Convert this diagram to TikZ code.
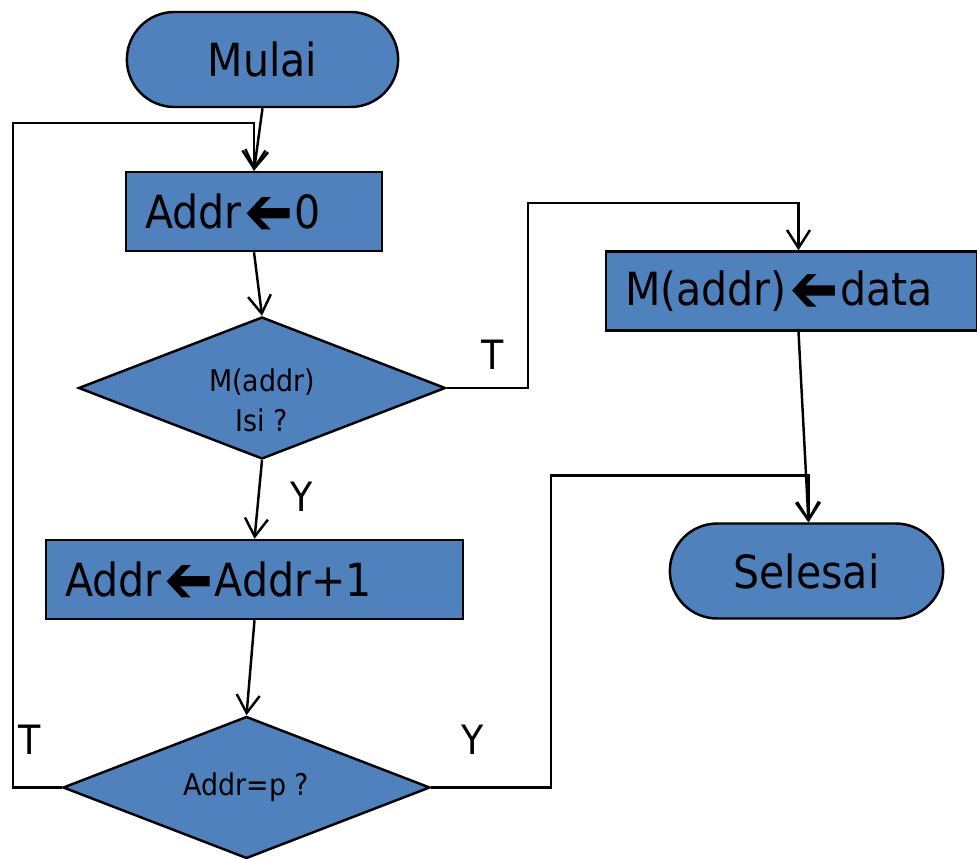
\documentclass[tikz,border=0pt]{standalone}
\usepackage{fontspec}
\setmainfont{DejaVu Sans Condensed}
\usetikzlibrary{arrows.meta,shapes.geometric,shapes.misc}
\definecolor{boxblue}{RGB}{79,129,189}
% thick block arrow used as assignment sign
\newcommand{\leftblk}{\hspace{3pt}\tikz[baseline=-8.5pt]
  \fill[black] (0,0) -- (8.5pt,9.2pt) -- (13.8pt,9.2pt) -- (7.6pt,2.9pt) -- (24.4pt,2.9pt)
  -- (24.4pt,-2.9pt) -- (7.6pt,-2.9pt) -- (13.8pt,-9.2pt) -- (8.5pt,-9.2pt) -- cycle;\hspace{3pt}}
\tikzset{
  base/.style={draw, line width=1.4pt, fill=boxblue, font=\fontsize{26}{30}\selectfont},
  term/.style={base, rounded rectangle, minimum height=1.9cm},
  proc/.style={base, rectangle, minimum height=1.58cm, inner xsep=0.38cm, align=left},
  cond/.style={base, diamond, aspect=2.58, inner sep=0pt, minimum width=7.34cm, minimum height=2.84cm,
    font=\fontsize{17}{22.7}\selectfont, align=center},
  condtxt/.style={font=\fontsize{17}{22.7}\selectfont, align=center, yshift=-0.25cm},
  arr/.style={line width=1.4pt, -{Straight Barb[length=0.36cm,width=0.46cm,line width=1.4pt]}},
  lbl/.style={font=\fontsize{23}{26}\selectfont}
}
\begin{document}
\begin{tikzpicture}
  \useasboundingbox (0,0) rectangle (19.54,-17.18);
  % nodes
  \node[term, minimum width=5.66cm] (start) at (5.25,-1.19) {Mulai};
  \node[proc, text width=4.36cm] (a0) at (5.08,-4.23) {Addr\leftblk0};
  \node[cond, label={[condtxt]center:M(addr)\\Isi ?}] (d1) at (5.24,-7.76) {};
  \node[proc, text width=7.58cm] (a1) at (5.09,-11.59) {Addr\leftblk Addr+1};
  \node[cond] (d2) at (4.93,-15.75) {Addr=p ?};
  \node[proc, text width=6.66cm] (m) at (15.83,-5.82) {M(addr)\leftblk data};
  \node[term, minimum width=5.70cm] (stop) at (16.13,-11.42) {Selesai};
  \coordinate (mtop) at ([xshift=0.14cm]m.north);
  \coordinate (mbot) at ([xshift=0.14cm]m.south);
  \coordinate (stoptop) at ([xshift=0.04cm]stop.north);
  % connectors
  \draw[arr] (start.south) -- (a0.north);
  \draw[arr] (a0.south) -- (d1.north);
  \draw[arr] (d1.south) -- (a1.north);
  \draw[arr] (a1.south) -- (d2.north);
  \draw[arr] (d2.west) -- ++(-0.98,0) |- ([yshift=0.96cm]a0.north) -- (a0.north);
  \draw[arr] (d1.east) -- ++(1.62,0) |- ([yshift=0.94cm]mtop) -- (mtop);
  \draw[arr] (d2.east) -- ++(2.40,0) |- ([yshift=0.94cm]stoptop) -- (stoptop);
  \draw[arr] (mbot) -- (stoptop);
  % labels
  \node[lbl] (lt1) at (9.86,-7.10) {T};
  \node[lbl] (ly1) at (6.04,-9.94) {Y};
  \node[lbl] (ly2) at (9.46,-14.80) {Y};
  \node[lbl] (lt2) at (0.60,-14.80) {T};
\end{tikzpicture}
\end{document}
